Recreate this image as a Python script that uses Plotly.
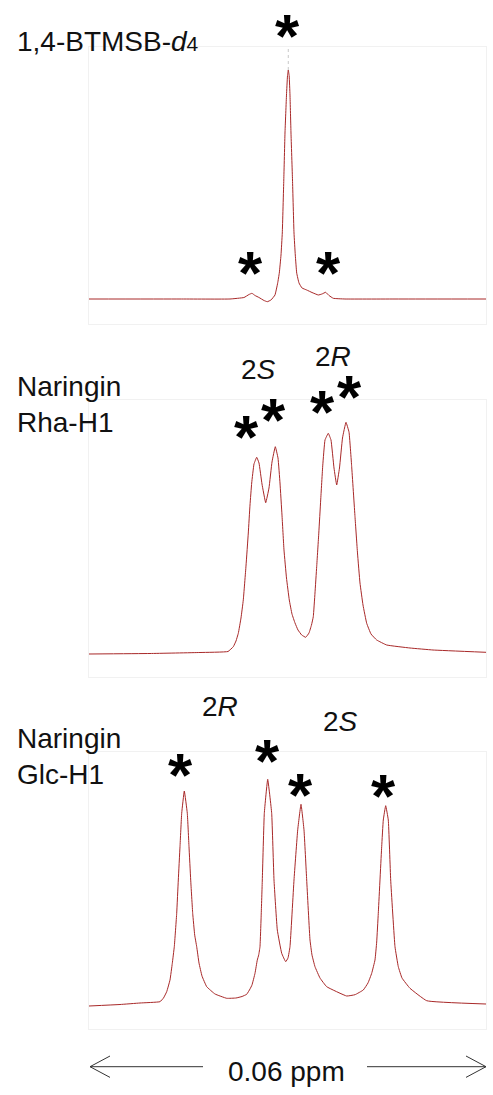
import plotly.graph_objects as go

# ---------------- data (x: chemical-shift offset in ppb within a 0.06 ppm window; y: intensity, a.u.) -------------
btmsb_x = [0, 13.753, 21.309, 23.425, 24.181, 24.634, 25.088, 25.692, 26.448, 26.946, 27.506, 28.110,
           28.518, 28.760, 29.017, 29.213, 29.440, 29.621, 29.848, 29.999, 30.120, 30.256, 30.377, 30.528,
           30.755, 30.982, 31.178, 31.390, 31.737, 32.191, 32.901, 33.702, 34.654, 35.213, 35.772, 36.271,
           36.921, 38.689, 47.001, 60.0]
btmsb_y = [0, 0, 0, 1.5, 4.5, 5.7, 3.5, 1.5, -1.5, -2.7, -1, 4,
           16, 26, 44, 66, 119, 166, 204, 223, 229, 223, 204, 166,
           119, 66, 44, 26, 16, 11, 9, 6.5, 4, 5, 6.7, 3.5,
           0.7, 0, 0, 0]

rha_x = [0, 9.219, 16.775, 21.007, 21.808, 22.216, 22.564, 22.972, 23.319, 23.727, 24.075, 24.332,
         24.589, 24.936, 25.345, 25.692, 26.145, 26.705, 27.203, 27.657, 28.156, 28.564, 28.866, 29.168,
         29.470, 29.848, 30.271, 30.679, 31.133, 31.586, 32.145, 32.750, 33.249, 33.626, 33.898, 34.155,
         34.412, 34.730, 35.017, 35.334, 35.667, 36.165, 36.573, 37.027, 37.435, 37.858, 38.312, 38.840,
         39.294, 39.702, 40.201, 40.578, 40.956, 41.410, 41.969, 42.619, 43.480, 44.991, 48.513, 51.989, 60.0]
rha_y = [0, 0.5, 1.5, 2.5, 7.3, 13, 20.7, 36, 54, 88, 121, 149,
         171, 190, 196.7, 191, 170, 151.3, 166, 192, 207.3, 196, 171, 139,
         104, 76, 54, 40, 31, 24, 19, 16.7, 21, 29, 37.3, 61,
         87.3, 121, 154, 189, 214, 220.7, 214, 186, 169, 186, 216, 231.7,
         222, 187.3, 137.3, 101, 71, 49, 30.7, 20, 14, 9, 6, 4, 1.7]

glc_x = [0, 4.685, 7.708, 10.730, 11.259, 11.743, 12.242, 12.589, 12.891, 13.254, 13.496, 13.753,
         14.010, 14.403, 14.856, 15.113, 15.370, 15.672, 15.974, 16.277, 16.624, 17.077, 17.788, 19.042,
         20.811, 22.216, 23.123, 23.833, 24.332, 24.634, 25.088, 25.435, 25.647, 25.843, 26.025, 26.191,
         26.493, 27.007, 27.611, 27.959, 28.458, 29.123, 29.727, 30.075, 30.377, 30.982, 31.541, 32.040,
         32.493, 32.901, 33.400, 33.702, 34.155, 34.911, 35.924, 38.946, 40.201, 41.455, 42.165, 42.724,
         43.223, 43.480, 43.722, 44.236, 44.477, 44.840, 45.233, 45.596, 46.246, 46.745, 47.304, 48.513,
         51.037, 60.0]
glc_y = [0, 1.5, 3, 4.3, 8, 14.3, 26, 42.7, 59.3, 92.7, 126, 159.3,
         192.7, 215, 192.7, 159.3, 126, 92.7, 71, 59.3, 43, 30, 19.3, 12,
         7.7, 8, 9.5, 11.7, 17, 21, 32.7, 46, 51, 59.3, 91, 126,
         192.7, 226.7, 192.7, 126, 76, 52.7, 44.3, 48, 59.3, 126, 176, 201.7,
         176, 126, 66, 51, 39.3, 28, 19.3, 10, 11.3, 16, 23, 32.7,
         46, 64, 92.7, 159.3, 186, 200.3, 186, 126, 59.3, 39.3, 28, 17.7,
         5.3, 2]

panel_labels = ["1,4-BTMSB-<i>d</i><span style='font-size:21px'>4</span>",
                "Naringin<br>Rha-H1",
                "Naringin<br>Glc-H1"]
span_label = "0.06 ppm"

LINE = "#a82828"
FONT = "Liberation Sans, Arial, sans-serif"
W, H = 493, 1095


def px(xp):
    return xp / W


def py(yp):
    return 1 - yp / H


fig = go.Figure()

xdom = [89 / W, 486 / W]
ydoms = [[py(324), py(47)], [py(677), py(400)], [py(1029), py(752)]]
yranges = [[-25, 252], [-23, 254], [-23, 254]]
series = [(btmsb_x, btmsb_y), (rha_x, rha_y), (glc_x, glc_y)]

for i, (sx, sy) in enumerate(series):
    suf = "" if i == 0 else str(i + 1)
    fig.add_trace(go.Scatter(x=sx, y=sy, mode="lines", xaxis="x" + suf, yaxis="y" + suf,
                             line=dict(color=LINE, width=1, shape="spline", smoothing=0.3),
                             hoverinfo="skip", showlegend=False))
    axstyle = dict(showgrid=False, zeroline=False, showticklabels=False, ticks="",
                   showline=True, mirror=True, linecolor="#f1f1f1", linewidth=1, fixedrange=True)
    fig.layout["xaxis" + suf] = dict(domain=xdom, range=[0, 60], anchor="y" + suf, **axstyle)
    fig.layout["yaxis" + suf] = dict(domain=ydoms[i], range=yranges[i], anchor="x" + suf, **axstyle)

# faint continuation above the clipped main reference peak
imax = btmsb_y.index(max(btmsb_y))
fig.add_trace(go.Scatter(x=[btmsb_x[imax], btmsb_x[imax]], y=[max(btmsb_y), yranges[0][1]],
                         mode="lines", line=dict(color="#c8c8c8", width=1, dash="dot"),
                         hoverinfo="skip", showlegend=False))

ann = []
# panel labels
label_pos = [(15, 41), (15, 404), (15, 756)]
for lab, (lx, ly) in zip(panel_labels, label_pos):
    ann.append(dict(text=lab, x=px(lx), y=py(ly), xref="paper", yref="paper", xanchor="left",
                    yanchor="middle", showarrow=False, align="left",
                    font=dict(family=FONT, size=28, color="#111")))

# stereo labels
stereo = [("2<i>S</i>", 258, 369), ("2<i>R</i>", 333, 356), ("2<i>R</i>", 220, 706), ("2<i>S</i>", 340, 721)]
for t, sxp, syp in stereo:
    ann.append(dict(text=t, x=px(sxp), y=py(syp), xref="paper", yref="paper", xanchor="center",
                    yanchor="middle", showarrow=False, font=dict(family=FONT, size=28, color="#111")))

# asterisks above the peaks
stars = [(250.8, 264), (287.5, 27), (328, 264),
         (246.5, 428), (273.7, 411), (322.5, 403), (349.5, 388),
         (180.5, 766), (267.8, 752), (300.3, 785.5), (383.3, 786.7)]
for sxp, syp in stars:
    ann.append(dict(text="<b>*</b>", x=px(sxp), y=py(syp), xref="paper", yref="paper", xanchor="center",
                    yanchor="middle", yshift=-8.5, showarrow=False,
                    font=dict(family=FONT, size=62, color="#000")))

# bottom scale
ann.append(dict(text=span_label, x=px(286), y=py(1071), xref="paper", yref="paper", xanchor="center",
                yanchor="middle", showarrow=False, font=dict(family=FONT, size=28, color="#111")))

shapes = []
ay = 1066.7
for x0, x1, tip, back in [(90, 203, 90, 110), (367, 486, 486, 466)]:
    shapes.append(dict(type="line", xref="paper", yref="paper", x0=px(x0), x1=px(x1), y0=py(ay), y1=py(ay),
                       line=dict(color="#333", width=1)))
    shapes.append(dict(type="path", xref="paper", yref="paper",
                       path=f"M {px(back)},{py(ay - 10.7)} L {px(tip)},{py(ay)} L {px(back)},{py(ay + 10.7)}",
                       line=dict(color="#333", width=1)))

fig.update_layout(width=W, height=H, margin=dict(l=0, r=0, t=0, b=0),
                  paper_bgcolor="white", plot_bgcolor="white", annotations=ann, shapes=shapes)

fig.write_html("out.html", config={"displayModeBar": False},
               post_script="document.body.style.margin='0';document.body.style.padding='0';")
